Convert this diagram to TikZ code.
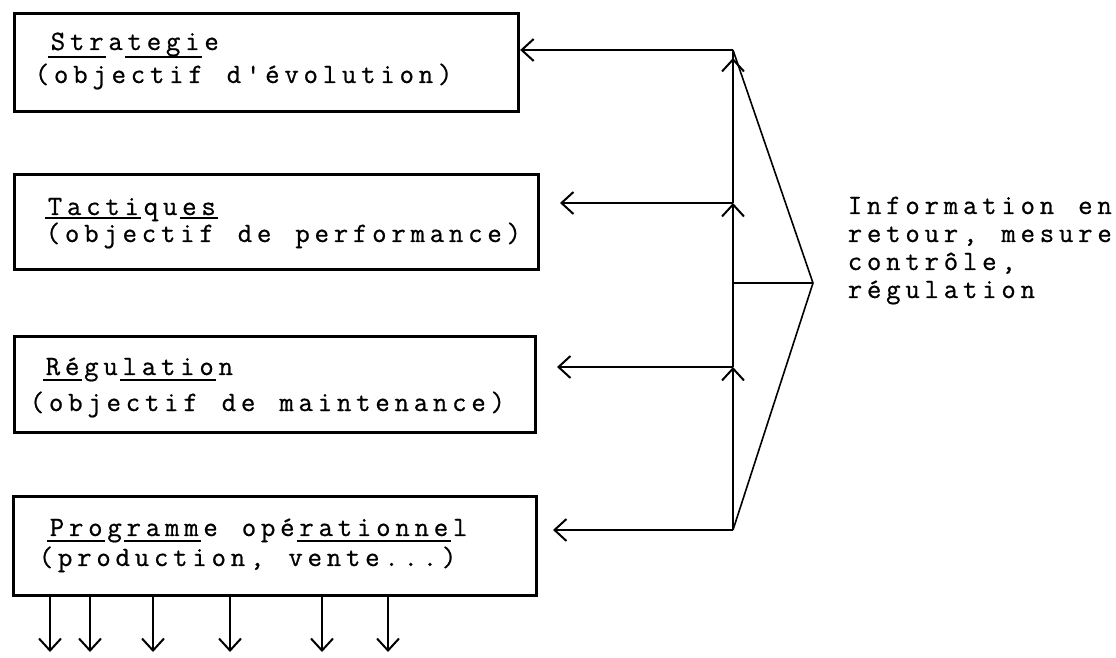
\documentclass[tikz,border=0pt]{standalone}
\usepackage{fontspec}
\usetikzlibrary{arrows.meta}
% typewriter face, every character set on a fixed pica pitch
\newfontfamily\typewriter{Latin Modern Mono}[FakeBold=0.7]
\newcommand\twfont{\typewriter\fontsize{14pt}{16pt}\selectfont}
\ExplSyntaxOn
\dim_new:N \l_tw_pitch_dim
\dim_set:Nn \l_tw_pitch_dim {9.6pt}
% plain typed characters
\cs_new_protected:Npn \twline #1
  { \str_map_inline:nn {#1} { \makebox[\l_tw_pitch_dim][c]{##1} } }
% typed characters struck over with an underscore (optional depth)
\NewDocumentCommand \twunder { O{-4pt} m }
  {
    \str_map_inline:nn {#2}
      { \rlap{\rule[#1]{\l_tw_pitch_dim}{0.9pt}}\makebox[\l_tw_pitch_dim][c]{##1} }
  }
\ExplSyntaxOff

\begin{document}
\begin{tikzpicture}[x=0.5pt, y=-0.5pt,
  >={Straight Barb[length=6pt,width=11pt]},
  box/.style={draw, line width=1.6pt, inner sep=0pt, anchor=north west},
  conn/.style={line width=1pt},
  feed/.style={line width=0.8pt},
  txt/.style={anchor=base west, inner sep=0pt, font=\twfont}]
\useasboundingbox (0,0) rectangle (1116,658);

% levels of objectives
\node[box, minimum width=252pt, minimum height=49pt]   (strat) at (13,12)  {};
\node[box, minimum width=262pt, minimum height=47.5pt] (tact)  at (13,173) {};
\node[box, minimum width=260.5pt, minimum height=48pt] (regul) at (13,335) {};
\node[box, minimum width=261.5pt, minimum height=49.5pt] (prog) at (12,495) {};

\node[txt] (s1) at (48,50)  {\twunder{Str}\twline{a}\twunder{tegi}\twline{e}};
\node[txt] (s2) at (32,83)  {\twline{(objectif d'évolution)}};
\node[txt] (t1) at (45,215) {\twunder[-2pt]{Tacti}\twline{qu}\twunder[-2pt]{es}};
\node[txt] (t2) at (43,242) {\twline{(objectif de performance)}};
\node[txt] (r1) at (43,375) {\twunder[-3pt]{Ré}\twline{gu}\twunder[-3pt]{latio}\twline{n}};
\node[txt] (r2) at (27,411) {\twline{(objectif de maintenance)}};
\node[txt] (p1) at (47,536) {\twunder[-3pt]{Pro}\twline{g}\twunder[-3pt]{ramm}\twline{e opé}\twunder[-3pt]{rationne}\twline{l}};
\node[txt] (p2) at (36,566) {\twline{(production, vente...)}};

% feedback label
\node[txt] (i1) at (845,214) {\twline{Information en}};
\node[txt] (i2) at (845,242) {\twline{retour, mesure}};
\node[txt] (i3) at (845,270) {\twline{contrôle,}};
\node[txt] (i4) at (845,298) {\twline{régulation}};

% junctions on the feedback column
\coordinate (jS) at (733,50);
\coordinate (jSa) at (733,58);
\coordinate (jT) at (733,203);
\coordinate (jR) at (733,367);
\coordinate (jM) at (733,283);
\coordinate (jP) at (733,530);
\coordinate (P)  at (813,283);
\coordinate (tT) at (560,203);
\coordinate (tR) at (557,367);
\coordinate (tP) at (553,530);

% rising column with arrowheads
\draw[conn,->] (jP) -- (jR);
\draw[conn,->] (jR) -- (jT);
\draw[conn] (jT) -- (jS);
\draw[conn,->] (jT) -- (jSa);

% returns to each level
\draw[conn,->] (jS) -- (strat.east |- jS);
\draw[conn,->] (jT) -- (tT);
\draw[conn,->] (jR) -- (tR);
\draw[conn,->] (jP) -- (tP);

% fan from the information point
\draw[feed] (P) -- (jS);
\draw[feed] (P) -- (jM);
\draw[feed] (P) -- (jP);

% outputs of the operational programme
\foreach \n/\x in {1/50, 2/90, 3/153, 4/230, 5/322, 6/388} {
  \coordinate (o\n) at (\x,652);
  \draw[conn,->] (o\n |- prog.south) -- (o\n);
}
\end{tikzpicture}
\end{document}
